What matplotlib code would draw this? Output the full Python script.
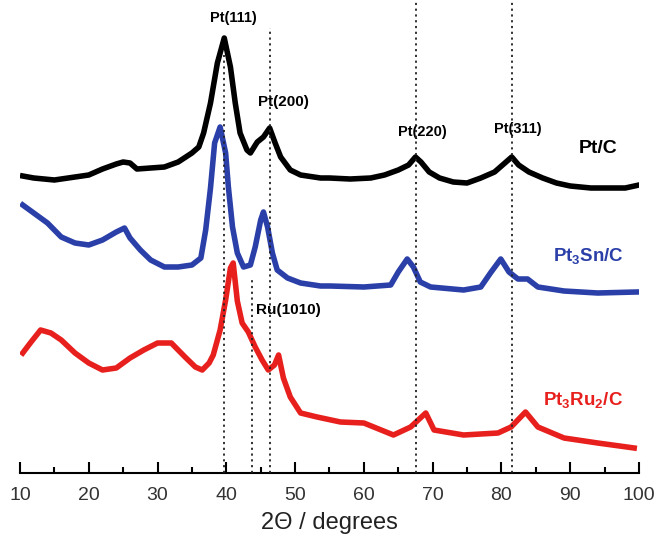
import matplotlib
matplotlib.use("Agg")
import matplotlib.pyplot as plt

plt.rcParams['font.family'] = ['Liberation Sans', 'DejaVu Sans']
plt.rcParams['mathtext.fontset'] = 'custom'
plt.rcParams['mathtext.rm'] = 'Liberation Sans'
plt.rcParams['mathtext.bf'] = 'Liberation Sans:bold'

# Pt/C (black)
ptc_x = [10.4, 12, 15, 18, 20, 22, 24, 25, 26, 27, 29, 31, 33, 35, 36, 36.7, 37.7, 38.7, 39.7,
         40.6, 41.3, 42, 43, 43.5, 44.5, 45.4, 46.3, 47.1, 47.9, 49.3, 50.8, 53.7, 55, 58, 61,
         63, 65, 66.5, 67.5, 68.3, 69.5, 71, 73, 75, 77, 79, 80.5, 81.5, 82.5, 84, 86, 88, 90,
         93, 96, 98, 100]
ptc_y = [297, 295, 293, 296, 298, 304, 309, 311, 310, 304, 305, 306, 311, 320, 326, 340, 370, 410, 435,
         406, 370, 340, 323, 320, 331, 336, 345, 330, 316, 303, 298, 295, 295, 294, 295,
         298, 303, 308, 316, 311, 301, 295, 291, 290, 295, 301, 310, 316, 308, 301, 295, 290, 287,
         285, 285, 285, 288]

# Pt3Sn/C (blue)
ptsn_x = [10.4, 12, 14, 16, 18, 20, 22, 24, 25.2, 26, 27.5, 29, 31, 33, 35, 36.3, 37, 37.7,
          38.3, 39.1, 39.9, 40.3, 40.9, 41.6, 42.5, 43.5, 44.2, 45.0, 45.4, 46.0, 46.7, 47.4,
          48.9, 50.8, 53.7, 55.1, 60, 63.9, 65, 66.3, 67.2, 68.2, 69.7, 74.5, 77, 78.4, 79.9,
          81.1, 82.4, 83.8, 85.3, 89.1, 94, 99.6]
ptsn_y = [268, 260, 250, 236, 230, 228, 233, 241, 245, 235, 223, 213, 206, 206, 208, 215, 243, 285,
          330, 346, 320, 286, 246, 220, 206, 208, 226, 253, 261, 246, 220, 203,
          195, 190, 187, 187, 186, 188, 201, 214, 206, 191, 186, 183, 186, 200, 214,
          201, 194, 194, 186, 182, 180, 181]

# Pt3Ru2/C (red)
ptru_x = [10.4, 11.5, 13, 14.5, 16, 18, 20, 22, 24, 26, 28, 30, 32, 34, 35.5, 36.5, 37.5, 38.1,
          39.1, 39.9, 40.6, 41.0, 41.6, 42.3, 43.2, 44.2, 45.2, 46.1, 47.0, 47.6, 48.3, 49.3,
          50.8, 53.2, 56.6, 60, 64.3, 66.8, 69.0, 70.2, 74.5, 79.5, 81.4, 83.5, 85.3, 89.1,
          94, 99.3]
ptru_y = [120, 130, 143, 140, 133, 120, 110, 103, 105, 115, 123, 130, 130, 116, 106, 103, 110, 118,
          143, 173, 205, 210, 172, 150, 141, 126, 113, 103, 108, 118, 95, 76,
          60, 56, 51, 50, 38, 46, 60, 43, 38, 40, 46, 61, 46, 35,
          30, 25]

x_ticks = [10, 20, 30, 40, 50, 60, 70, 80, 90, 100]

# reference lines: position, top of the line
ref_x = [39.7, 43.8, 46.3, 67.6, 81.5]
ref_top = [418, 195, 445, 473, 473]

fig = plt.figure(figsize=(6.57, 5.45), dpi=100)
ax = fig.add_axes([0.0304, 0.1321, 0.9422, 0.8679])
ax.set_xlim(10, 100)
ax.set_ylim(0, 473)

lw = 4.0
ax.plot(ptc_x, ptc_y, color='black', lw=lw, solid_joinstyle='round')
ax.plot(ptsn_x, ptsn_y, color='#2a3fa8', lw=lw, solid_joinstyle='round')
ax.plot(ptru_x, ptru_y, color='#e8201d', lw=lw, solid_joinstyle='round')

for xv, top in zip(ref_x, ref_top):
    ax.plot([xv, xv], [0, top], color='#222222', lw=1.3, ls=(0, (1.2, 2.0)), zorder=5)

ax.text(41.0, 455, 'Pt(111)', ha='center', va='center', fontsize=10.5, fontweight='bold')
ax.text(48.3, 371, 'Pt(200)', ha='center', va='center', fontsize=11, fontweight='bold')
ax.text(68.5, 341, 'Pt(220)', ha='center', va='center', fontsize=10.5, fontweight='bold')
ax.text(82.4, 344, 'Pt(311)', ha='center', va='center', fontsize=10.5, fontweight='bold')
ax.text(49.0, 163, 'Ru(1010)', ha='center', va='center', fontsize=11, fontweight='bold')

ax.text(94.0, 325, 'Pt/C', ha='center', va='center', fontsize=14, fontweight='bold', color='black')
ax.text(92.6, 216, r'Pt$_\mathbf{3}$Sn/C', ha='center', va='center', fontsize=13.5,
        fontweight='bold', color='#2a3fa8')
ax.text(91.8, 72, r'Pt$_\mathbf{3}$Ru$_\mathbf{2}$/C', ha='center', va='center', fontsize=13.5,
        fontweight='bold', color='#e8201d')

for s in ['left', 'right', 'top']:
    ax.spines[s].set_visible(False)
ax.spines['bottom'].set_linewidth(1.5)
ax.set_yticks([])
ax.set_xticks(x_ticks)
ax.set_xticks([15, 25, 35, 45, 55, 65, 75, 85, 95], minor=True)
ax.tick_params(axis='x', which='major', direction='in', length=8, width=1.5,
               labelsize=14, pad=10, labelcolor='#333333')
ax.tick_params(axis='x', which='minor', direction='in', length=4, width=1.5)
ax.set_xlabel('2Θ / degrees', fontsize=17, labelpad=6, color='#222222')
ax.patch.set_alpha(0)

fig.savefig('out.png', dpi=100)
